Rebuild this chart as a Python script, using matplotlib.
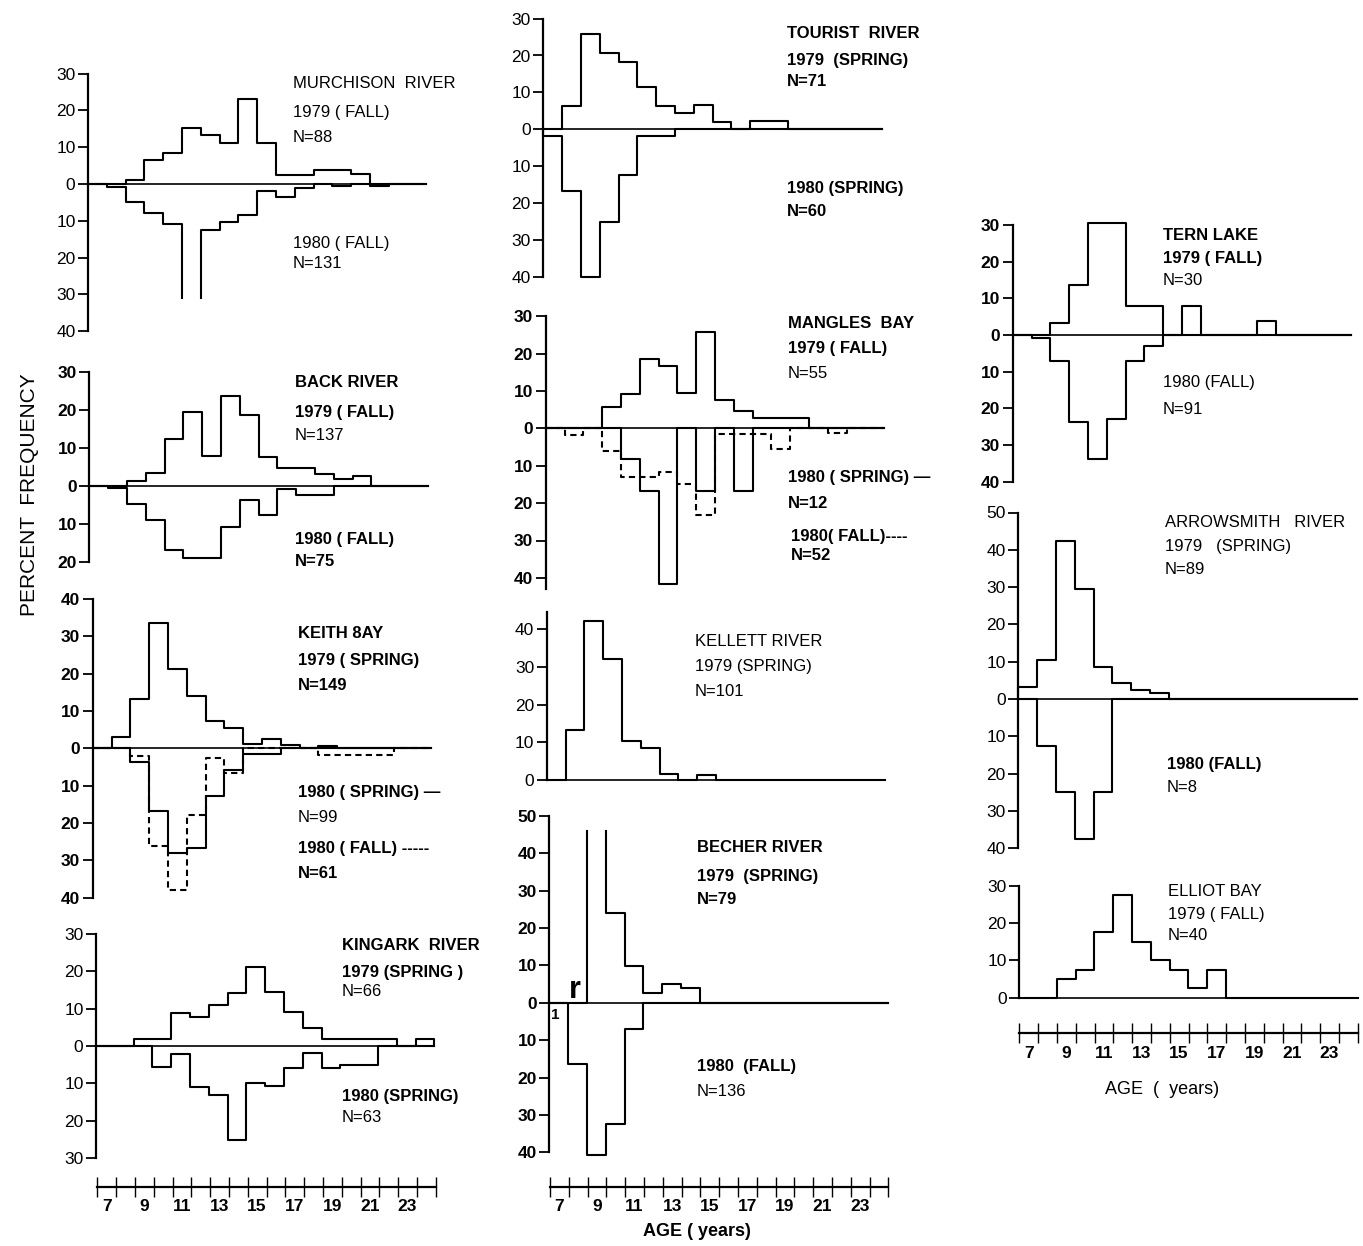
import numpy as np
import matplotlib
matplotlib.use("Agg")
import matplotlib.pyplot as plt

plt.rcParams['font.family'] = ['Liberation Sans', 'DejaVu Sans']

W, H = 1363, 1246
BIN = 18.8          # pixels per one-year age class

# percent frequency by age class, ages 7..24 (one value per year)
murchison_79 = [0, 0, 1.2, 6.5, 8.3, 15.2, 13.2, 11.2, 23.2, 11.2, 2.5, 2.5, 3.8, 3.8, 2.7, 0, 0, 0]
murchison_80 = [0, 0.9, 4.8, 7.9, 11.0, 36.5, 12.6, 10.4, 8.3, 1.8, 3.5, 1.1, 0, 0.6, 0, 0.6, 0, 0]
back_79 = [0, 0, 1.2, 3.3, 12.3, 19.3, 7.7, 23.5, 18.7, 7.5, 4.6, 4.6, 3.0, 1.8, 2.6, 0, 0, 0]
back_80 = [0, 0.7, 4.8, 8.9, 16.8, 18.9, 18.9, 10.8, 3.8, 7.8, 0.9, 2.5, 2.5, 0, 0, 0, 0, 0]
keith_79 = [0, 3.1, 13.1, 33.7, 21.3, 14.1, 7.4, 5.4, 1.1, 2.5, 0.8, 0, 0.5, 0, 0, 0, 0, 0]
keith_80_spring = [0, 0, 3.8, 16.8, 28.1, 26.8, 12.9, 5.8, 1.6, 1.6, 0, 0, 0, 0, 0, 0, 0, 0]
keith_80_fall = [0, 0, 2.0, 26.2, 38.0, 17.9, 2.5, 6.7, 0, 0, 0, 0, 1.8, 1.8, 1.8, 1.8, 0, 0]
kingark_79 = [0, 0, 1.9, 1.9, 8.9, 7.7, 11.0, 14.3, 21.3, 14.4, 9.2, 4.7, 1.9, 1.9, 1.9, 1.9, 0, 1.9]
kingark_80 = [0, 0, 0, 5.5, 2.1, 10.9, 13.1, 25.2, 10.0, 10.7, 5.8, 2.0, 5.8, 5.1, 5.1, 0, 0, 0]

tourist_79 = [0, 6.3, 25.7, 20.8, 18.3, 11.5, 6.4, 4.3, 6.6, 2.0, 0, 2.2, 2.2, 0, 0, 0, 0, 0]
tourist_80 = [1.7, 16.7, 40.0, 25.0, 12.5, 1.7, 1.7, 0, 0, 0, 0, 0, 0, 0, 0, 0, 0, 0]
mangles_79 = [0, 0, 0, 5.6, 9.3, 18.5, 16.7, 9.5, 25.8, 7.6, 4.6, 2.7, 2.7, 2.7, 0, 0, 0, 0]
mangles_80_spring = [0, 0, 0, 0, 8.3, 16.7, 41.7, 0, 16.7, 0, 16.7, 0, 0, 0, 0, 0, 0, 0]
mangles_80_fall = [0, 1.8, 0, 6.2, 12.9, 12.9, 11.6, 15.0, 23.1, 1.5, 1.5, 1.5, 5.6, 0, 0, 1.2, 0, 0]
kellett_79 = [0, 13.3, 42.3, 32.1, 10.3, 8.4, 1.6, 0, 1.4, 0, 0, 0, 0, 0, 0, 0, 0, 0]
becher_79 = [0, 0, 54.7, 24.1, 9.8, 2.7, 4.9, 3.8, 0, 0, 0, 0, 0, 0, 0, 0, 0, 0]
becher_80 = [0, 16.5, 40.8, 32.5, 6.9, 0, 0, 0, 0, 0, 0, 0, 0, 0, 0, 0, 0, 0]

tern_79 = [0, 0, 3.3, 13.6, 30.6, 30.6, 7.8, 7.8, 0, 7.8, 0, 0, 0, 3.8, 0, 0, 0, 0]
tern_80 = [0, 0.7, 7.1, 23.8, 33.8, 22.8, 7.0, 2.9, 0, 0, 0, 0, 0, 0, 0, 0, 0, 0]
arrowsmith_79 = [3.1, 10.4, 42.4, 29.4, 8.7, 4.2, 2.4, 1.7, 0, 0, 0, 0, 0, 0, 0, 0, 0, 0]
arrowsmith_80 = [0, 12.5, 25.0, 37.5, 25.0, 0, 0, 0, 0, 0, 0, 0, 0, 0, 0, 0, 0, 0]
elliot_79 = [0, 0, 5.0, 7.5, 17.5, 27.5, 15.0, 10.0, 7.5, 2.5, 7.5, 0, 0, 0, 0, 0, 0, 0]

age_labels = [7, 9, 11, 13, 15, 17, 19, 21, 23]

fig = plt.figure(figsize=(W / 100, H / 100), dpi=100)


def panel(spine_px, zero_px, scale, ylo, yhi, end=25, bold=False):
    xmax = 25.6
    top_px = zero_px - yhi * scale
    bot_px = zero_px - ylo * scale
    ax = fig.add_axes([spine_px / W, 1 - bot_px / H,
                       (xmax - 7) * BIN / W, (bot_px - top_px) / H])
    ax.set_xlim(7, xmax)
    ax.set_ylim(ylo, yhi)
    ax.patch.set_visible(False)
    for s in ['top', 'right', 'bottom']:
        ax.spines[s].set_visible(False)
    ax.spines['left'].set_linewidth(1.6)
    ticks = np.arange(int(np.ceil(ylo / 10)) * 10, yhi + 0.1, 10)
    ax.set_yticks(ticks)
    ax.set_yticklabels([str(abs(int(t))) for t in ticks],
                       fontweight='bold' if bold else 'normal')
    ax.tick_params(axis='y', direction='out', length=7, width=1.3, labelsize=12.5, pad=2)
    ax.set_xticks([])
    ax.plot([7, end], [0, 0], color='black', lw=1.2, clip_on=False)
    return ax


def steps(ax, vals, sign=1, clip=None, ls='-'):
    xs, ys = [7.0], [0.0]
    for i, v in enumerate(vals):
        h = sign * (min(v, clip) if clip else v)
        xs.append(7 + i)
        ys.append(h)
        if clip and v > clip:
            xs.append(np.nan)
            ys.append(np.nan)
        xs.append(8 + i)
        ys.append(h)
    xs.append(7 + len(vals))
    ys.append(0.0)
    ax.plot(xs, ys, color='black', lw=1.5, ls=ls, clip_on=False)


def label(x, y, s, bold=True, size=12):
    fig.text(x / W, 1 - y / H, s, ha='left', va='center', fontsize=size,
             fontweight='bold' if bold else 'normal')


def age_axis(x0_px, y_px, bold=True):
    ax = fig.add_axes([x0_px / W, 1 - y_px / H, 18 * BIN / W, 2 / H])
    ax.set_xlim(7, 25)
    ax.set_ylim(0, 1)
    ax.patch.set_visible(False)
    for s in ['top', 'right', 'left']:
        ax.spines[s].set_visible(False)
    ax.spines['bottom'].set_linewidth(1.6)
    ax.set_yticks([])
    ax.set_xticks(np.arange(7, 26))
    ax.set_xticklabels([])
    ax.set_xticks([a + 0.5 for a in age_labels], [str(a) for a in age_labels], minor=True)
    ax.tick_params(axis='x', which='major', direction='inout', length=14, width=1.0)
    ax.tick_params(axis='x', which='minor', length=0, pad=9, labelsize=12.5)
    for t in ax.get_xticklabels(minor=True):
        t.set_fontweight('bold' if bold else 'normal')
    return ax


# ---- left column ----
ax = panel(88, 184, 3.68, -40, 30, end=24)
steps(ax, murchison_79)
steps(ax, murchison_80, sign=-1, clip=31)
label(293, 83, 'MURCHISON  RIVER', bold=False)
label(293, 113, '1979 ( FALL)', bold=False)
label(293, 137, 'N=88', bold=False)
label(293, 243, '1980 ( FALL)', bold=False)
label(293, 264, 'N=131', bold=False)

ax = panel(89.3, 485.7, 3.8, -20, 30, end=24, bold=True)
steps(ax, back_79)
steps(ax, back_80, sign=-1)
label(295, 382, 'BACK RIVER')
label(295, 413, '1979 ( FALL)')
label(295, 435, 'N=137', bold=False)
label(295, 539, '1980 ( FALL)')
label(295, 561, 'N=75')

ax = panel(92.7, 748.3, 3.73, -40, 40, bold=True)
steps(ax, keith_79)
steps(ax, keith_80_spring, sign=-1)
steps(ax, keith_80_fall, sign=-1, ls=(0, (3, 2)))
label(298, 633, 'KEITH 8AY')
label(298, 661, '1979 ( SPRING)')
label(298, 685, 'N=149')
label(298, 793, '1980 ( SPRING) —')
label(298, 818, 'N=99', bold=False)
label(298, 849, '1980 ( FALL) -----')
label(298, 874, 'N=61')

ax = panel(96, 1046, 3.73, -30, 30)
steps(ax, kingark_79)
steps(ax, kingark_80, sign=-1)
label(342, 946, 'KINGARK  RIVER')
label(342, 972, '1979 (SPRING )')
label(342, 991, 'N=66', bold=False)
label(342, 1097, '1980 (SPRING)')
label(342, 1117, 'N=63', bold=False)

age_axis(97.3, 1186.7)

fig.text(30 / W, 1 - 495 / H, 'PERCENT  FREQUENCY', rotation=90, ha='center',
         va='center', fontsize=15)

# ---- middle column ----
ax = panel(543.3, 129.3, 3.69, -40, 30)
steps(ax, tourist_79)
steps(ax, tourist_80, sign=-1)
label(787, 33, 'TOURIST  RIVER')
label(787, 60, '1979  (SPRING)')
label(787, 81, 'N=71')
label(787, 189, '1980 (SPRING)')
label(787, 212, 'N=60')

ax = panel(545.7, 428.3, 3.74, -43, 30, bold=True)
steps(ax, mangles_79)
steps(ax, mangles_80_fall, sign=-1, ls=(0, (3, 2)))
steps(ax, mangles_80_spring, sign=-1)
label(788, 323, 'MANGLES  BAY')
label(788, 349, '1979 ( FALL)')
label(788, 373, 'N=55', bold=False)
label(788, 478, '1980 ( SPRING) —')
label(788, 503, 'N=12')
label(791, 537, '1980( FALL)----')
label(791, 556, 'N=52')

ax = panel(546.7, 780, 3.77, 0, 44.6)
steps(ax, kellett_79)
label(695, 641, 'KELLETT RIVER', bold=False)
label(695, 667, '1979 (SPRING)', bold=False)
label(695, 691, 'N=101', bold=False)

ax = panel(549.3, 1002.7, 3.74, -40, 50, bold=True)
steps(ax, becher_79, clip=46)
steps(ax, becher_80, sign=-1)
label(697, 848, 'BECHER RIVER')
label(697, 876, '1979  (SPRING)')
label(697, 899, 'N=79')
label(697, 1067, '1980  (FALL)')
label(697, 1092, 'N=136', bold=False)
fig.text(575 / W, 1 - 990 / H, 'r', ha='center', va='center', fontsize=22, fontweight='bold')
fig.text(555 / W, 1 - 1015 / H, '1', ha='center', va='center', fontsize=11, fontweight='bold')

age_axis(550, 1186.7)
fig.text(697 / W, 1 - 1232 / H, 'AGE ( years)', ha='center', va='center',
         fontsize=13, fontweight='bold')

# ---- right column ----
ax = panel(1012.7, 335, 3.67, -40, 30, bold=True)
steps(ax, tern_79)
steps(ax, tern_80, sign=-1)
label(1163, 235, 'TERN LAKE')
label(1163, 258, '1979 ( FALL)')
label(1163, 281, 'N=30', bold=False)
label(1163, 382, '1980 (FALL)', bold=False)
label(1163, 409, 'N=91', bold=False)

ax = panel(1018.3, 699, 3.73, -40, 50)
steps(ax, arrowsmith_79)
steps(ax, arrowsmith_80, sign=-1)
label(1165, 523, 'ARROWSMITH   RIVER', bold=False)
label(1165, 547, '1979   (SPRING)', bold=False)
label(1165, 570, 'N=89', bold=False)
label(1167, 764, '1980 (FALL)')
label(1167, 787, 'N=8', bold=False)

ax = panel(1019.3, 997.7, 3.73, 0, 30)
steps(ax, elliot_79)
label(1168, 892, 'ELLIOT BAY', bold=False)
label(1168, 915, '1979 ( FALL)', bold=False)
label(1168, 936, 'N=40', bold=False)

age_axis(1019.3, 1033.3)
fig.text(1162 / W, 1 - 1090 / H, 'AGE  (  years)', ha='center', va='center', fontsize=13)

fig.savefig('out.png', dpi=100)
